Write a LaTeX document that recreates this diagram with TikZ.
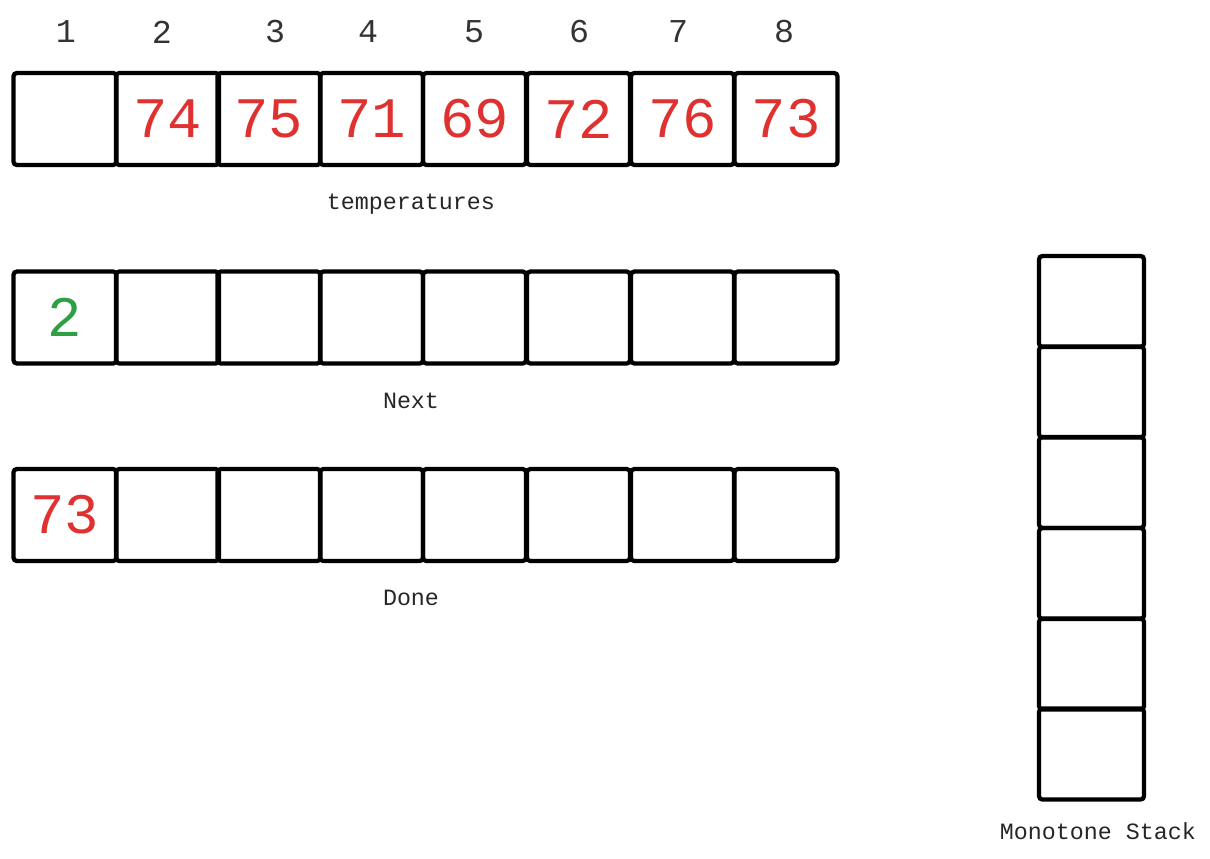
\documentclass[tikz,border=0pt]{standalone}
\usepackage{fontspec}
\setmainfont{Liberation Mono}
\usepackage{xcolor}
\usepackage{tikz}
\usetikzlibrary{positioning}

\definecolor{numred}{RGB}{224,49,49}
\definecolor{numgreen}{RGB}{47,158,68}

\begin{document}
\begin{tikzpicture}[x=0.75pt,y=0.75pt,yscale=-1,xscale=1,
  cell/.style={draw,line width=3.2pt,rounded corners=2.5pt,minimum width=77.25pt,minimum height=69pt,inner sep=0pt},
  stackcell/.style={draw,line width=3.2pt,rounded corners=2.5pt,minimum width=78.75pt,minimum height=68.25pt,inner sep=0pt},
  bignum/.style={font=\fontsize{43}{43}\selectfont},
  idx/.style={font=\fontsize{25}{25}\selectfont,text=black!80},
  caption/.style={font=\fontsize{17.5}{17.5}\selectfont,text=black!85}]
\useasboundingbox (0,0) rectangle (1210,858);

%Index Row
\node [idx] (i1) at (66,32) {1};
\node [idx] (i2) at (162,32) {2};
\node [idx] (i3) at (275,32) {3};
\node [idx] (i4) at (368,32) {4};
\node [idx] (i5) at (474,32) {5};
\node [idx] (i6) at (579,32) {6};
\node [idx] (i7) at (678,32) {7};
\node [idx] (i8) at (784,32) {8};

%Shape: temperatures row
\node [cell] (t1) at (65,119) {};
\node [cell,bignum,text=numred] (t2) at (167.5,119) {74};
\node [cell,bignum,text=numred] (t3) at (269,119) {75};
\node [cell,bignum,text=numred] (t4) at (371.5,119) {71};
\node [cell,bignum,text=numred] (t5) at (474.5,119) {69};
\node [cell,bignum,text=numred] (t6) at (578.5,119) {72};
\node [cell,bignum,text=numred] (t7) at (682.5,119) {76};
\node [cell,bignum,text=numred] (t8) at (786,119) {73};

%Shape: Next row
\node [cell,bignum,text=numgreen] (n1) at (65,317.5) {2};
\node [cell] (n2) at (167.5,317.5) {};
\node [cell] (n3) at (269,317.5) {};
\node [cell] (n4) at (371.5,317.5) {};
\node [cell] (n5) at (474.5,317.5) {};
\node [cell] (n6) at (578.5,317.5) {};
\node [cell] (n7) at (682.5,317.5) {};
\node [cell] (n8) at (786,317.5) {};

%Shape: Done row
\node [cell,bignum,text=numred] (d1) at (65,515) {73};
\node [cell] (d2) at (167.5,515) {};
\node [cell] (d3) at (269,515) {};
\node [cell] (d4) at (371.5,515) {};
\node [cell] (d5) at (474.5,515) {};
\node [cell] (d6) at (578.5,515) {};
\node [cell] (d7) at (682.5,515) {};
\node [cell] (d8) at (786,515) {};

%Shape: Monotone Stack
\node [stackcell] (s1) at (1091.5,301.5) {};
\node [stackcell] (s2) at (1091.5,392) {};
\node [stackcell] (s3) at (1091.5,482.5) {};
\node [stackcell] (s4) at (1091.5,573.5) {};
\node [stackcell] (s5) at (1091.5,664) {};
\node [stackcell] (s6) at (1091.5,754) {};

% Text Node
\node [caption] (ltemp) at (411,204) {temperatures};
% Text Node
\node [caption] (lnext) at (411,401) {Next};
% Text Node
\node [caption] (ldone) at (411,598) {Done};
% Text Node
\node [caption] (lstack) at (1098,831) {Monotone Stack};

\end{tikzpicture}
\end{document}
